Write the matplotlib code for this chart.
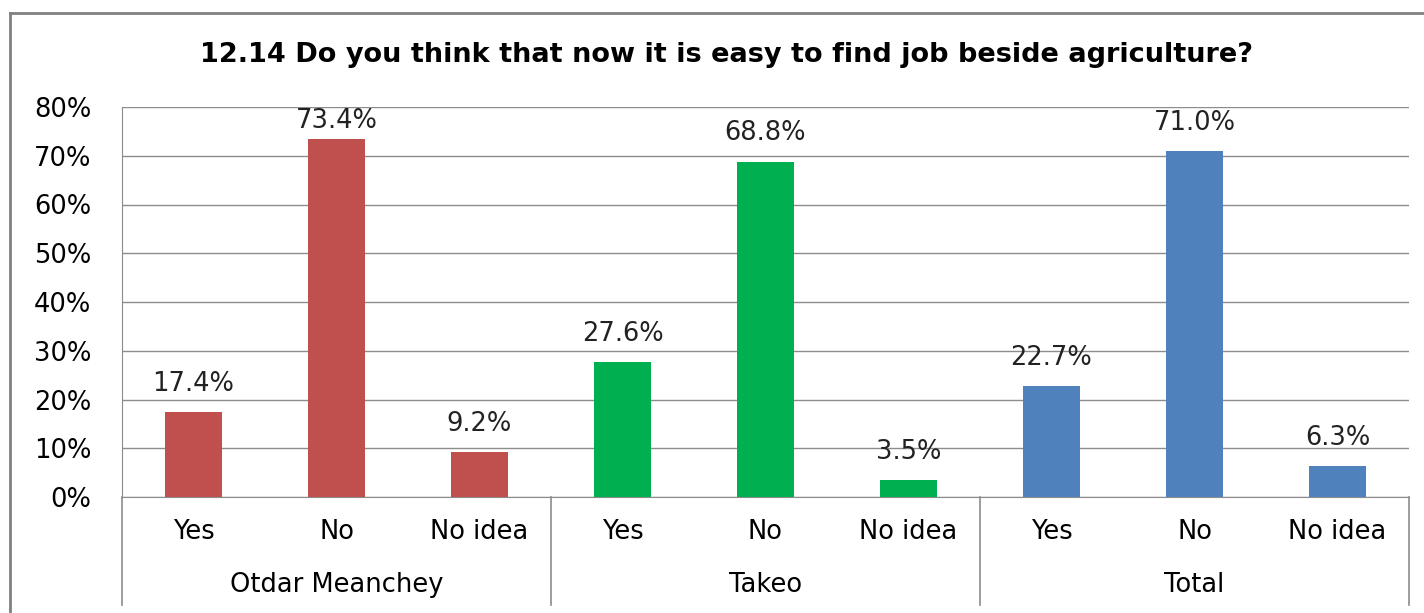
import matplotlib.pyplot as plt
from matplotlib.lines import Line2D
import matplotlib.transforms as mtransforms

groups = ["Otdar Meanchey", "Takeo", "Total"]
answers = ["Yes", "No", "No idea"]
otdar = [17.4, 73.4, 9.2]
takeo = [27.6, 68.8, 3.5]
total = [22.7, 71.0, 6.3]
colors = ["#C0504D", "#00B050", "#4F81BD"]

plt.rcParams['font.family'] = ['DejaVu Sans']

W, H = 1424, 613
FS = 18.5
fig = plt.figure(figsize=(W / 100, H / 100), dpi=100)
ax = fig.add_axes([122 / W, 1 - 497 / H, (1409 - 122) / W, (497 - 107) / H])

series = [otdar, takeo, total]
xs, labels = [], []
for g, vals in enumerate(series):
    x = [g * 3 + i for i in range(3)]
    ax.bar(x, vals, width=0.4, color=colors[g], zorder=3)
    for xi, v in zip(x, vals):
        # labels sit above the bar, but are kept inside the plot area
        ax.text(xi, min(v + 3.1, 74.5), f"{v:.1f}%", ha="center", va="bottom",
                fontsize=FS, color="#222222", zorder=4)
    xs += x
    labels += answers

ax.set_xlim(-0.5, 8.5)
ax.set_ylim(0, 80)
ax.set_yticks(range(0, 81, 10))
ax.set_yticklabels([f"{t}%" for t in range(0, 81, 10)], fontsize=FS)
ax.set_xticks(xs)
ax.set_xticklabels(labels, fontsize=FS)
ax.tick_params(axis="x", length=0, pad=16)
ax.tick_params(axis="y", length=0, pad=22)
ax.grid(axis="y", color="#8c8c8c", linewidth=1, zorder=0)
for s in ["top", "right"]:
    ax.spines[s].set_visible(False)
ax.spines["left"].set_color("#8c8c8c")
ax.spines["bottom"].set_color("#8c8c8c")

trans = mtransforms.blended_transform_factory(ax.transData, ax.transAxes)
for xb in [-0.5, 2.5, 5.5, 8.5]:
    ax.add_line(Line2D([xb, xb], [0, -108 / 390], transform=trans, color="#8c8c8c",
                       linewidth=1.2, clip_on=False))
for g, name in enumerate(groups):
    ax.text(g * 3 + 1, -88 / 390, name, transform=trans, ha="center", va="center", fontsize=FS)

fig.text(727 / W, 1 - 55 / H, "12.14 Do you think that now it is easy to find job beside agriculture?",
         ha="center", va="center", fontsize=19.5, fontweight="bold")

# chart frame
fig.add_artist(Line2D([10 / W, 10 / W], [0, 1 - 13 / H], transform=fig.transFigure,
                      color="#808080", linewidth=2))
fig.add_artist(Line2D([10 / W, 1], [1 - 13 / H, 1 - 13 / H], transform=fig.transFigure,
                      color="#808080", linewidth=2))

fig.savefig("out.png", dpi=100)
